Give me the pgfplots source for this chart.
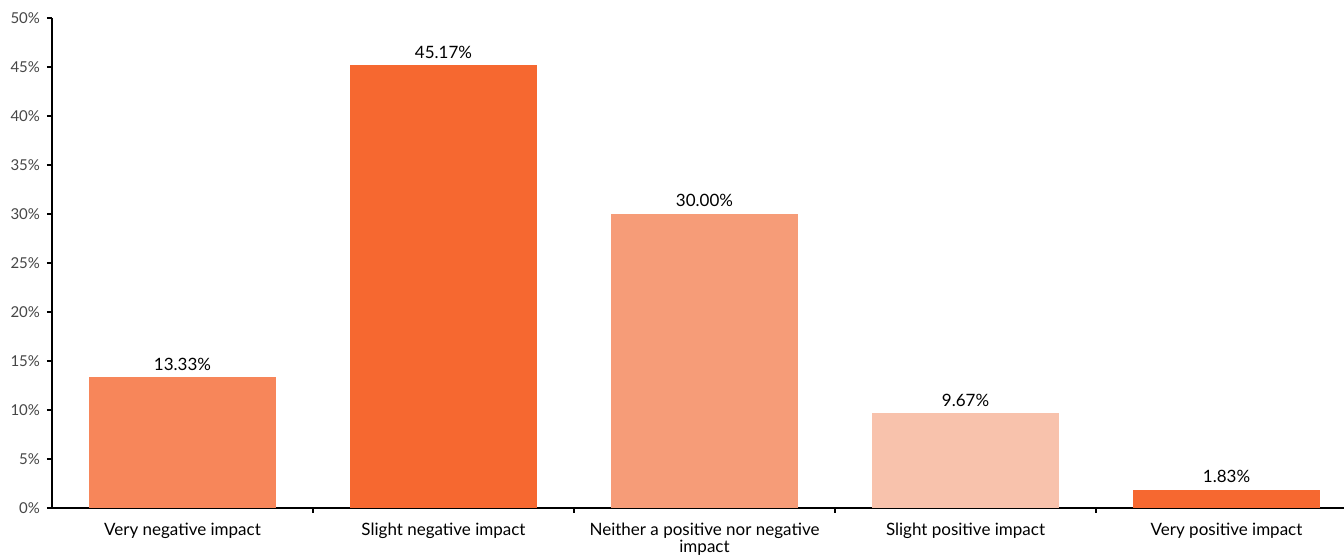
\documentclass[border=0pt]{standalone}
\usepackage{pgfplots}
\pgfplotsset{compat=1.18}
\usepackage{fontspec}
\setmainfont{Lato}
\definecolor{c1}{RGB}{247,134,90}
\definecolor{c2}{RGB}{246,104,48}
\definecolor{c3}{RGB}{246,156,120}
\definecolor{c4}{RGB}{248,194,172}
\definecolor{tgray}{RGB}{70,70,70}
\begin{document}
\begin{tikzpicture}
\begin{axis}[
  name=ax,
  scale only axis,
  width=646pt, height=245pt,
  xmin=-0.5, xmax=4.45,
  ymin=0, ymax=50,
  axis lines=left,
  axis line style={-, line width=1pt, black},
  ytick={0,5,...,50},
  yticklabel={\pgfmathprintnumber{\tick}\%},
  yticklabel style={font=\fontsize{7.5}{9}\selectfont, text=tgray},
  /pgf/number format/assume math mode=true,
  xtick={0,1,2,3,4},
  xticklabels={Very negative impact, Slight negative impact, {Neither a positive nor negative\\impact}, Slight positive impact, Very positive impact},
  xticklabel style={font=\fontsize{8.5}{8.5}\selectfont, align=center, text=black, yshift=-1.5pt},
  minor xtick={0.5,1.5,2.5,3.5},
  major x tick style={draw=none},
  minor x tick style={line width=1pt, black},
  y tick style={line width=1pt, black},
  tick align=outside,
  major tick length=2.5pt,
  minor tick length=2.5pt,
  ybar, bar width=0.716, bar shift=0pt,
  nodes near coords={\pgfmathprintnumber[fixed,fixed zerofill,precision=2]{\pgfplotspointmeta}\%},
  nodes near coords style={font=\fontsize{8.5}{9}\selectfont, text=black, yshift=0pt},
  clip=false,
]
\addplot[fill=c1, draw=none] coordinates {(0,13.33)};
\addplot[fill=c2, draw=none] coordinates {(1,45.17)};
\addplot[fill=c3, draw=none] coordinates {(2,30.00)};
\addplot[fill=c4, draw=none] coordinates {(3,9.67)};
\addplot[fill=c2, draw=none] coordinates {(4,1.83)};
\end{axis}
\pgfresetboundingbox
\path ([xshift=-26pt,yshift=-23.5pt]ax.south west) rectangle ([yshift=9pt]ax.north east);
\end{tikzpicture}
\end{document}
